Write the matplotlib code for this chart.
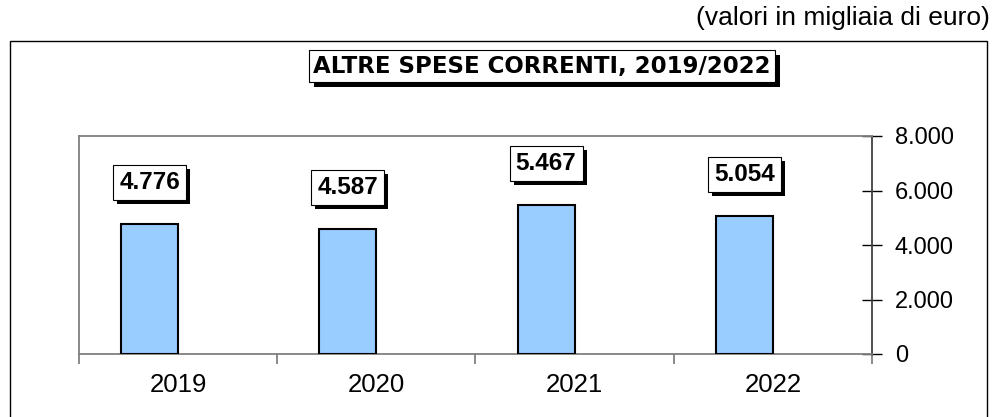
import numpy as np
import matplotlib.pyplot as plt
from matplotlib.patches import Rectangle

# Dati
anni = ['2019', '2020', '2021', '2022']
spese = [4776, 4587, 5467, 5054]
etichette = ['4.776', '4.587', '5.467', '5.054']
tick_vals = [0, 2000, 4000, 6000, 8000]
tick_labels = ['0', '2.000', '4.000', '6.000', '8.000']

plt.rcParams['font.family'] = ['Liberation Sans', 'DejaVu Sans']

W, H = 995, 417
fig = plt.figure(figsize=(W / 100, H / 100), dpi=100)

# cornice esterna
fig.patches.append(Rectangle((10 / W, -0.05), 977 / W, 1.05 - 41 / H,
                             transform=fig.transFigure, fill=False,
                             edgecolor='black', linewidth=1))

fig.text(990 / W, 1 - 18 / H, '(valori in migliaia di euro)',
         ha='right', va='center', fontsize=19)

ax = fig.add_axes([79 / W, 63 / H, 793 / W, 218 / H])

x = np.arange(len(anni))
w = 0.288
ax.bar(x - w / 2, spese, w, color='#99CCFF', edgecolor='black', linewidth=1.5, zorder=3)

ax.set_xlim(-0.5, len(anni) - 0.5)
ax.set_ylim(0, 8000)

for s in ['top', 'left', 'bottom']:
    ax.spines[s].set_color('#808080')
    ax.spines[s].set_linewidth(1.3)
ax.spines['right'].set_color('#404040')
ax.spines['right'].set_linewidth(1.3)

ax.yaxis.tick_right()
ax.set_yticks(tick_vals)
ax.set_yticklabels(tick_labels, fontsize=17)
ax.tick_params(axis='y', direction='inout', length=15, width=1, color='black', pad=9)

ax.set_xticks(np.arange(len(anni) + 1) - 0.5)
ax.set_xticklabels([])
ax.tick_params(axis='x', which='major', direction='out', length=7, width=1.3, color='#808080')
ax.set_xticks(x, minor=True)
ax.set_xticklabels(anni, minor=True, fontsize=18.5)
ax.tick_params(axis='x', which='minor', length=0, pad=14)

# etichette dei valori
labels = []
for xi, v, lab in zip(x, spese, etichette):
    t = ax.annotate(lab, (xi - w / 2, v), xytext=(0, 30), textcoords='offset points',
                    ha='center', va='center', fontsize=17.5, fontweight='bold', color='black',
                    bbox=dict(boxstyle='square,pad=0.25', facecolor='white', edgecolor='black', linewidth=0.8),
                    zorder=6, annotation_clip=False)
    labels.append(t)

# titolo
title = fig.text(542 / W, 1 - 66 / H, 'ALTRE SPESE CORRENTI, 2019/2022', ha='center', va='center',
                 fontsize=16.5, fontweight='bold', family='DejaVu Sans', color='black', zorder=6,
                 bbox=dict(boxstyle='square,pad=0.2', facecolor='white', edgecolor='black', linewidth=0.8))

# ombre nere sotto i riquadri
fig.canvas.draw()
for t in labels:
    bb = t.get_bbox_patch().get_window_extent()
    ax.add_patch(Rectangle(((bb.x0 + 4) / W, (bb.y0 - 4) / H), bb.width / W, bb.height / H,
                           transform=fig.transFigure, facecolor='black', edgecolor='none',
                           zorder=5, clip_on=False))
bb = title.get_bbox_patch().get_window_extent()
fig.patches.append(Rectangle(((bb.x0 + 5) / W, (bb.y0 - 5) / H), bb.width / W, bb.height / H,
                             transform=fig.transFigure, facecolor='black', edgecolor='none',
                             zorder=5))

fig.savefig('out.png', dpi=100)
